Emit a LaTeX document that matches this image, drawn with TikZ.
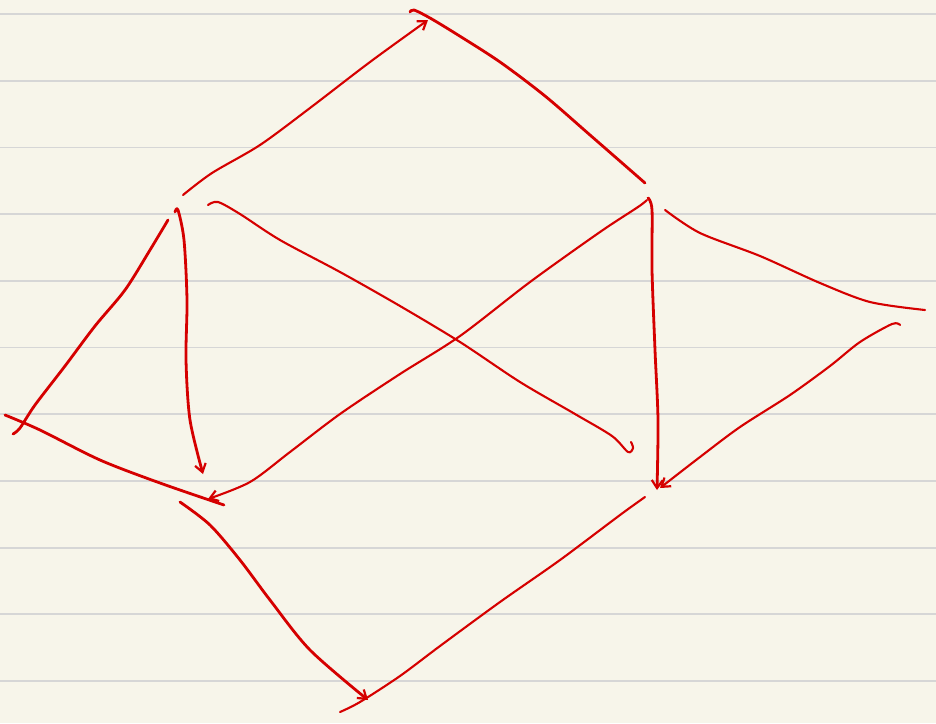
\documentclass[tikz,border=0pt]{standalone}
\usetikzlibrary{arrows.meta}
\definecolor{paper}{HTML}{F7F5EA}
\definecolor{rule}{HTML}{D6D6D6}
\definecolor{ink}{HTML}{D50000}
\tikzset{
  pen/.style={draw=ink, line width=2.8pt, line cap=round, line join=round},
  thinpen/.style={pen, line width=2.1pt},
  tip/.style={-{Straight Barb[length=8pt,width=11pt,line width=2.2pt]}},
}
\begin{document}
\begin{tikzpicture}[x=1pt,y=-1pt]
\fill[paper] (0,0) rectangle (936,723);
\useasboundingbox (0,0) rectangle (936,723);
\foreach \y in {14,80.7,147.4,214.1,280.8,347.5,414.2,480.9,547.6,614.3,681} \draw[rule, line width=1.8pt] (0,\y) -- (936,\y);

% named end points
\coordinate (a1) at (183,195); \coordinate (a2) at (428,20);
\coordinate (b1) at (410,12);  \coordinate (b2) at (645,183);
\coordinate (c1) at (175,212); \coordinate (c2) at (203,474);
\coordinate (d1) at (208,205); \coordinate (d2) at (631,442);
\coordinate (e1) at (647,200); \coordinate (e2) at (208,499);
\coordinate (f1) at (648,198); \coordinate (f2) at (657,490);
\coordinate (g1) at (665,210); \coordinate (g2) at (925,310);
\coordinate (h1) at (900,325); \coordinate (h2) at (660,488);
\coordinate (i1) at (168,220); \coordinate (i2) at (13,434);
\coordinate (j1) at (5,415);   \coordinate (j2) at (224,505);
\coordinate (k1) at (180,502); \coordinate (k2) at (368,700);
\coordinate (l1) at (645,497); \coordinate (l2) at (340,712);

\draw[thinpen,tip] plot[smooth] coordinates {(a1) (212,173) (260,145) (310,108) (370,62) (a2)};
\draw[pen] plot[smooth] coordinates {(b1) (414,10) (430,18) (458,35) (500,62) (545,96) (590,135) (b2)};
\draw[pen,tip] plot[smooth] coordinates {(c1) (178,210) (184,240) (187,300) (186,360) (190,420) (c2)};
\draw[thinpen] plot[smooth] coordinates {(d1) (218,202) (240,214) (280,240) (340,272) (400,306) (460,342) (520,382) (575,414) (612,436) (628,452) (633,448) (d2)};
\draw[thinpen,tip] plot[smooth] coordinates {(e1) (638,207) (600,232) (530,282) (460,336) (400,374) (340,414) (290,452) (250,482) (e2)};
\draw[pen,tip] plot[smooth] coordinates {(f1) (652,210) (652,270) (655,350) (658,420) (f2)};
\draw[thinpen] plot[smooth] coordinates {(g1) (700,233) (760,256) (820,283) (870,302) (g2)};
\draw[thinpen,tip] plot[smooth] coordinates {(h1) (892,324) (860,342) (830,366) (790,395) (740,427) (700,457) (h2)};
\draw[pen] plot[smooth] coordinates {(i1) (150,250) (125,290) (95,326) (65,366) (35,405) (20,428) (i2)};
\draw[pen] plot[smooth] coordinates {(j1) (40,430) (100,460) (160,483) (j2)};
\draw[pen,tip] plot[smooth] coordinates {(k1) (210,525) (240,560) (270,600) (310,650) (k2)};
\draw[thinpen] plot[smooth] coordinates {(l1) (620,515) (560,560) (500,602) (440,646) (400,676) (360,702) (l2)};
\end{tikzpicture}
\end{document}
